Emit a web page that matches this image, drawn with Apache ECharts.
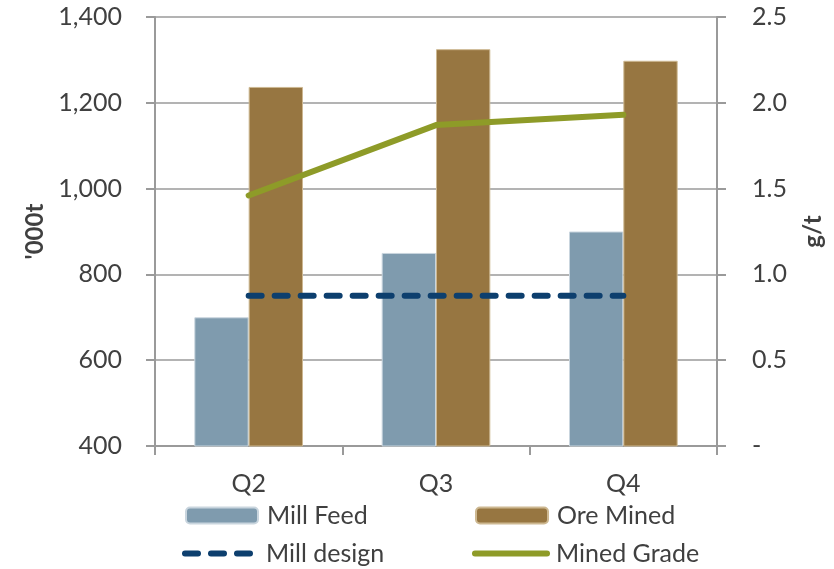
<!DOCTYPE html>
<html>
<head>
<meta charset="utf-8">
<script src="https://cdn.jsdelivr.net/npm/echarts@6/dist/echarts.min.js"></script>
<style>
  html, body { margin: 0; padding: 0; background: #ffffff; }
  #chart { width: 834px; height: 569px; }
</style>
</head>
<body>
<div id="chart"></div>
<script>
// Quarterly tonnage ('000t) and grade (g/t)
const quarters = ['Q2', 'Q3', 'Q4'];
const millFeed = [700, 850, 900];
const oreMined = [1237, 1325, 1298];
const millDesign = [750, 750, 750];
const minedGrade = [1.46, 1.87, 1.93];

const FONT = 'Lato, "Open Sans", sans-serif';
const TEXT = '#404040';
const AXIS = '#9a9a9a';
const DASH = [13, 13];

const chart = echarts.init(document.getElementById('chart'), null, { renderer: 'canvas' });

function legendAt(name, left, top, lineLegend) {
  const lg = {
    data: [name],
    left: left,
    top: top,
    padding: 0,
    itemWidth: 72,
    itemHeight: 16,
    itemGap: 0,
    textStyle: { fontFamily: FONT, fontSize: 25, color: TEXT, padding: [0, 0, 0, 4] }
  };
  if (lineLegend) {
    // line-only key: hide the marker, keep the stroke at full width
    lg.itemStyle = { opacity: 0 };
    lg.lineStyle = { width: 6, cap: 'round' };
  }
  return lg;
}

chart.setOption({
  backgroundColor: '#ffffff',
  animation: false,
  textStyle: { fontFamily: FONT },
  grid: { left: 155, right: 117, top: 17, height: 429 },
  legend: [
    legendAt('Mill Feed', 185, 503, false),
    legendAt('Ore Mined', 475, 503, false),
    legendAt('Mill design', 182, 541, true),
    legendAt('Mined Grade', 472, 541, true)
  ],
  xAxis: {
    type: 'category',
    data: quarters,
    axisLine: { lineStyle: { color: AXIS, width: 2 } },
    axisTick: { show: true, length: 9, lineStyle: { color: AXIS, width: 2 } },
    axisLabel: { fontFamily: FONT, fontSize: 25, color: TEXT, margin: 25 }
  },
  yAxis: [
    {
      type: 'value',
      min: 400, max: 1400, interval: 200,
      name: "'000t",
      nameLocation: 'middle',
      nameRotate: 90,
      nameGap: 108,
      nameTextStyle: { fontFamily: FONT, fontSize: 24, fontWeight: 'bold', color: TEXT },
      axisLine: { show: true, lineStyle: { color: AXIS, width: 2 } },
      axisTick: { show: true, length: 9, lineStyle: { color: AXIS, width: 2 } },
      splitLine: { show: true, lineStyle: { color: AXIS, width: 1.5 } },
      axisLabel: {
        fontFamily: FONT, fontSize: 25, color: TEXT, margin: 33,
        formatter: v => v.toLocaleString('en-US')
      }
    },
    {
      type: 'value',
      min: 0, max: 2.5, interval: 0.5,
      position: 'right',
      name: 'g/t',
      nameLocation: 'middle',
      nameRotate: 90,
      nameGap: 84,
      nameTextStyle: { fontFamily: FONT, fontSize: 24, fontWeight: 'bold', color: TEXT },
      axisLine: { show: true, lineStyle: { color: AXIS, width: 2 } },
      axisTick: { show: true, length: 9, lineStyle: { color: AXIS, width: 2 } },
      splitLine: { show: false },
      axisLabel: {
        fontFamily: FONT, fontSize: 25, color: TEXT, margin: 35,
        formatter: v => (v === 0 ? '-' : v.toFixed(1))
      }
    }
  ],
  series: [
    {
      name: 'Mill Feed',
      type: 'bar',
      data: millFeed,
      barGap: '0%',
      barCategoryGap: '42%',
      itemStyle: { color: '#7f9bae', borderColor: '#c9d5de', borderWidth: 1 }
    },
    {
      name: 'Ore Mined',
      type: 'bar',
      data: oreMined,
      itemStyle: { color: '#977641', borderColor: '#cdb891', borderWidth: 1 }
    },
    {
      name: 'Mill design',
      type: 'line',
      data: millDesign,
      symbol: 'none',
      itemStyle: { color: '#0d3f6e' },
      lineStyle: { color: '#0d3f6e', width: 6, type: DASH, cap: 'round' }
    },
    {
      name: 'Mined Grade',
      type: 'line',
      yAxisIndex: 1,
      data: minedGrade,
      symbol: 'none',
      itemStyle: { color: '#8e9b28' },
      lineStyle: { color: '#8e9b28', width: 6, cap: 'round', join: 'round' }
    }
  ]
});
</script>
</body>
</html>
